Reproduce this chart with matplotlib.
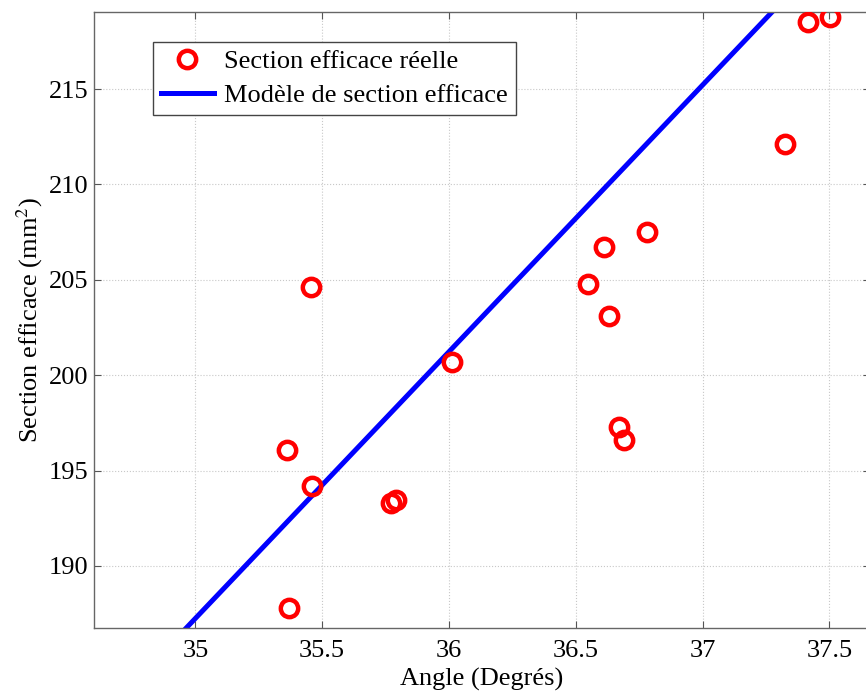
import matplotlib
matplotlib.use("Agg")
import matplotlib.pyplot as plt

plt.rcParams['font.family'] = ['Liberation Serif', 'DejaVu Serif']
plt.rcParams['mathtext.fontset'] = 'stix'

# measured points
angle = [35.36, 35.46, 35.37, 35.77, 35.79, 35.456, 36.01, 36.55, 36.61,
         36.63, 36.78, 36.67, 36.69, 37.325, 37.417, 37.504]
section = [196.1, 194.2, 187.8, 193.3, 193.45, 204.6, 200.7, 204.8, 206.7,
           203.1, 207.5, 197.3, 196.6, 212.1, 218.5, 218.8]

# fitted model (two ends of the line)
model_angle = [34.964, 37.274]
model_section = [186.75, 219.04]

xticks = [35, 35.5, 36, 36.5, 37, 37.5]
yticks = [190, 195, 200, 205, 210, 215]

fig = plt.figure(figsize=(8.66, 6.91), dpi=100)
ax = fig.add_axes([0.1085, 0.0912, 0.896, 0.8914])

ax.plot(angle, section, 'o', ls='none', mfc='none', mec='#ff0000',
        ms=12.5, mew=3.2, label='Section efficace réelle', zorder=3)
ax.plot(model_angle, model_section, '-', color='#0000ff', lw=3.6,
        label='Modèle de section efficace', zorder=2)

ax.set_xlim(34.6, 37.66)
ax.set_ylim(186.75, 219.04)
ax.set_xticks(xticks)
ax.set_xticklabels(['35', '35.5', '36', '36.5', '37', '37.5'])
ax.set_yticks(yticks)

ax.grid(True, ls=':', color='#c8c8c8', lw=0.8)
ax.tick_params(direction='in', top=True, right=True, length=5,
               labelsize=19, color='#555555')
ax.tick_params(axis='x', pad=9)
ax.tick_params(axis='y', pad=4)
for s in ax.spines.values():
    s.set_color('#666666')
    s.set_linewidth(1.0)

ax.set_xlabel('Angle (Degrés)', fontsize=19, labelpad=4)
ax.set_ylabel('Section efficace (mm$^2$)', fontsize=19, labelpad=3)

leg = ax.legend(loc='upper left', bbox_to_anchor=(153 / 866, 1 - 42 / 691),
                bbox_transform=fig.transFigure, borderaxespad=0,
                fancybox=False, fontsize=19, handlelength=2.0,
                handletextpad=0.4, borderpad=0.3, labelspacing=0.4,
                framealpha=1)
leg.get_frame().set_edgecolor('#444444')
leg.get_frame().set_linewidth(1.0)

fig.savefig('out.png', dpi=100)
